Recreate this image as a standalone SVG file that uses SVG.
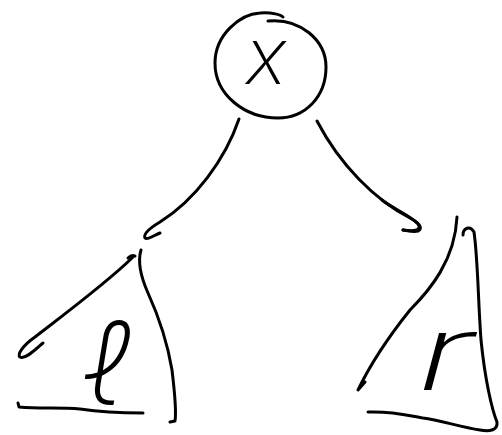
<svg xmlns="http://www.w3.org/2000/svg" width="502" height="435" viewBox="0 0 502 435">
<style>
.s{fill:none;stroke:#000;stroke-width:3;stroke-linecap:round;stroke-linejoin:round}
.t{font-family:Inter,Lato,"DejaVu Sans",sans-serif;font-weight:200;fill:#000;text-anchor:middle;font-style:italic}
</style>
<rect width="502" height="435" fill="#fff"/>
<g id="root">
<path class="s" d="M268,21 C300,18 326,40 326,67 C326,97 305,118 278,118 C245,118 215,95 215,63 C215,35 240,14 260,13 C272,12 281,15 283,17"/>
<text class="t" x="266" y="84" font-size="78">x</text>
</g>
<g id="connectors">
<path class="s" d="M239,119 C225,160 195,200 160,222 C150,228 143,234 145,238 C147,240 153,236 160,233"/>
<path class="s" d="M317,121 C340,165 375,200 410,218 C420,223 423,229 418,231 C414,232 408,231 403,230"/>
</g>
<g id="left-subtree">
<path class="s" d="M133,257 C110,280 70,310 35,337 C22,346 17,355 20,357 C25,360 35,350 43,343"/>
<path class="s" d="M128,258 C130,256 133,255 135,256"/>
<path class="s" d="M141,250 C138,260 140,275 148,293 C158,315 167,340 172,370 C175,395 176,415 175,421 L170,422"/>
<path class="s" d="M18,403 L19,407 C40,409 60,407 80,409 C100,412 120,413 143,413"/>
<text class="t" x="108" y="405" font-size="115">ℓ</text>
</g>
<g id="right-subtree">
<path class="s" d="M457,217 C455,260 430,290 410,310 C390,335 370,365 358,390 L365,382"/>
<path class="s" d="M463,235 C463,228 470,225 474,232 C478,260 478,300 481,340 C485,380 492,410 497,422 C498,430 490,432 480,430 C460,427 440,420 423,418 C410,416 395,411 368,412"/>
<path class="s" d="M382,200 C395,210 410,215 418,224 C422,230 415,232 403,230"/>
<text class="t" font-size="105" transform="translate(445,390) scale(1.6,1)">r</text>
</g>
</svg>
